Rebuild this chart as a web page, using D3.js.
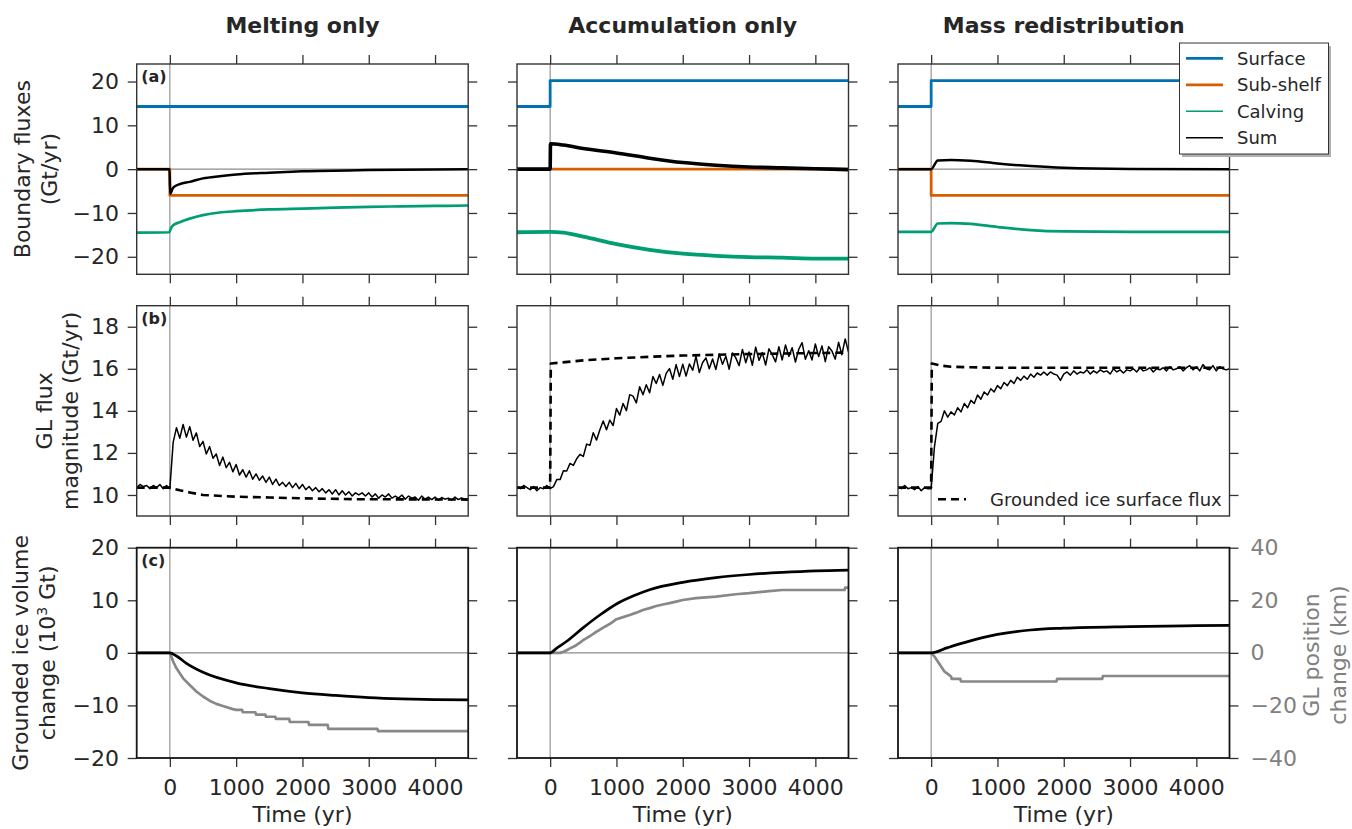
<!DOCTYPE html>
<html>
<head>
<meta charset="utf-8">
<script src="https://cdn.jsdelivr.net/npm/d3@7"></script>
<style>
  body { margin: 0; background: #fff; }
  svg { display: block; font-family: "DejaVu Sans", sans-serif; }
</style>
</head>
<body>
<svg id="chart" width="1352" height="829"></svg>
<script>

//  values; time in yr, fluxes in Gt/yr, volume in 10^3 Gt, GL position in km

var columns = ['Melting only', 'Accumulation only', 'Mass redistribution'];
var panelTags = ['(a)', '(b)', '(c)'];

var xTicks = [0, 1000, 2000, 3000, 4000];
var fluxTicks = [-20, -10, 0, 10, 20];
var glFluxTicks = [10, 12, 14, 16, 18];
var volTicks = [-20, -10, 0, 10, 20];
var posTicks = [-40, -20, 0, 20, 40];

var legendNames = ['Surface', 'Sub-shelf', 'Calving', 'Sum'];

// row (a) boundary fluxes, one array per column
var surface = [
    [[-500, 14.3], [4500, 14.3]],
    [[-500, 14.3], [0, 14.3], [0, 20.2], [4500, 20.2]],
    [[-500, 14.3], [0, 14.3], [0, 20.2], [4500, 20.2]]
];
var subShelf = [
    [[-500, 0], [0, 0], [0, -6], [4500, -6]],
    [[-500, 0], [4500, 0]],
    [[-500, 0], [0, 0], [0, -6], [4500, -6]]
];
var calving = [
    [[-500, -14.5], [-10, -14.4], [20, -13.4], [50, -12.8], [150, -12.1], [300, -11.3], [500, -10.5], [750, -9.9],
     [1000, -9.6], [1500, -9.2], [2000, -9.0], [2500, -8.8], [3000, -8.6], [3500, -8.5], [4000, -8.4], [4500, -8.3]],
    [[-500, -14.4], [0, -14.3], [200, -14.5], [500, -15.4], [1000, -17.1], [1500, -18.4], [2000, -19.3],
     [2500, -19.8], [3000, -20.1], [3500, -20.2], [4000, -20.4], [4500, -20.4]],
    [[-500, -14.3], [0, -14.3], [100, -12.4], [300, -12.3], [600, -12.5], [1000, -13.2], [1500, -13.9],
     [2000, -14.2], [3000, -14.3], [4500, -14.3]]
];
var fluxSum = [
    [[-500, 0], [-5, 0], [5, -5.6], [50, -4.2], [150, -3.4], [300, -2.9], [500, -2.1], [750, -1.6], [1000, -1.2],
     [1500, -0.8], [2000, -0.5], [3000, -0.2], [4500, 0]],
    [[-500, 0], [0, 0], [5, 5.8], [200, 5.5], [500, 4.7], [1000, 3.7], [1500, 2.5], [2000, 1.5], [2500, 0.9],
     [3000, 0.5], [3500, 0.3], [4000, 0.1], [4500, -0.1]],
    [[-500, 0], [0, 0], [100, 2.0], [300, 2.1], [600, 1.9], [1000, 1.3], [1500, 0.7], [2000, 0.3], [3000, 0.05], [4500, 0]]
];

// row (b) GL flux magnitude, sampled every 50 yr from -500 to 4500 (one line = 500 yr)
var glTime = d3.range(-500, 4501, 50);
var glFlux = [
    [10.35, 10.5, 10.4, 10.45, 10.3, 10.45, 10.35, 10.5, 10.3, 10.45,
     10.3, 12.5, 13.2, 12.7, 13.35, 12.75, 13.25, 12.6, 12.95, 12.3,
     12.55, 11.95, 12.3, 11.75, 11.95, 11.4, 11.8, 11.3, 11.55, 11.1,
     11.45, 10.95, 11.2, 10.85, 11.15, 10.75, 11.0, 10.7, 10.9, 10.6,
     10.85, 10.5, 10.75, 10.45, 10.6, 10.4, 10.6, 10.35, 10.55, 10.3,
     10.5, 10.25, 10.4, 10.2, 10.35, 10.15, 10.3, 10.1, 10.25, 10.05,
     10.25, 10.0, 10.2, 10.0, 10.15, 9.95, 10.1, 10.0, 10.1, 9.95,
     10.1, 9.9, 10.05, 9.85, 10.0, 9.9, 10.05, 9.85, 9.95, 9.85,
     10.0, 9.8, 9.95, 9.85, 9.9, 9.75, 9.95, 9.8, 9.9, 9.78,
     9.9, 9.75, 9.88, 9.8, 9.85, 9.75, 9.9, 9.78, 9.86, 9.8,
     9.82],
    [10.4, 10.3, 10.45, 10.35, 10.25, 10.4, 10.2, 10.35, 10.3, 10.45,
     10.3, 10.4, 10.73, 10.73, 11.15, 11.14, 11.5, 11.41, 11.72, 11.93,
     11.83, 12.42, 12.36, 12.96, 12.61, 13.1, 13.52, 13.1, 13.56, 13.3,
     14.11, 13.8, 14.35, 14.01, 14.77, 14.7, 14.38, 15.15, 14.77, 15.24,
     14.86, 15.63, 15.3, 15.73, 15.21, 15.78, 16.01, 15.5, 16.2, 15.63,
     16.22, 15.65, 16.23, 15.93, 16.59, 15.82, 16.3, 16.52, 16.0, 16.47,
     15.97, 16.7, 16.22, 16.6, 15.98, 16.75, 16.52, 16.15, 16.92, 16.29,
     16.8, 16.17, 17.03, 16.4, 16.77, 16.18, 16.95, 16.67, 16.33, 17.05,
     16.42, 17.13, 16.59, 17.0, 16.32, 16.93, 17.24, 16.45, 16.86, 16.42,
     17.18, 16.58, 17.09, 16.34, 17.05, 16.85, 16.46, 17.26, 16.67, 17.42,
     16.8],
    [10.4, 10.3, 10.45, 10.3, 10.35, 10.25, 10.4, 10.2, 10.35, 10.3,
     10.3, 12.3, 13.4, 13.5, 14.0, 13.7, 13.95, 13.8, 14.15, 13.95,
     14.35, 14.15, 14.5, 14.35, 14.75, 14.55, 14.9, 14.75, 15.05, 14.9,
     15.2, 15.05, 15.35, 15.2, 15.45, 15.3, 15.6, 15.45, 15.65, 15.5,
     15.75, 15.6, 15.8, 15.7, 15.85, 15.7, 15.85, 15.75, 15.7, 15.45,
     15.75, 15.85, 15.7, 15.9, 15.75, 15.85, 15.8, 15.95, 15.75, 15.9,
     15.8, 15.95, 15.85, 15.9, 15.75, 16.0, 15.85, 15.95, 15.8, 15.95,
     15.9, 16.0, 15.85, 16.05, 15.9, 15.95, 16.05, 15.85, 16.0, 15.95,
     16.05, 15.9, 16.1, 15.95, 16.0, 16.1, 15.9, 16.05, 16.15, 15.95,
     16.1, 15.9, 16.2, 16.0, 15.95, 16.15, 15.9, 16.1, 16.0, 15.95,
     16.0]
];
var groundedSurfaceFlux = [
    [[-500, 10.35], [0, 10.35], [150, 10.22], [300, 10.12], [500, 10.0], [1000, 9.92], [1500, 9.88],
     [2000, 9.84], [2800, 9.8], [4500, 9.78]],
    [[-500, 10.35], [0, 10.35], [10, 16.25], [500, 16.4], [1000, 16.5], [1500, 16.57], [2000, 16.63],
     [3000, 16.7], [4000, 16.75], [4500, 16.77]],
    [[-500, 10.35], [0, 10.35], [10, 16.25], [150, 16.15], [300, 16.1], [600, 16.07], [1000, 16.05],
     [2000, 16.05], [4500, 16.05]]
];

// row (c) grounded ice volume change (left axis) and GL position change (right axis)
var volume = [
    [[-500, 0], [0, 0], [100, -0.6], [250, -2.0], [500, -3.7], [1000, -5.7], [1500, -6.8], [2000, -7.6],
     [2500, -8.1], [3000, -8.5], [3500, -8.75], [4000, -8.9], [4500, -8.95]],
    [[-500, 0], [0, 0], [100, 0.9], [250, 2.2], [500, 4.8], [750, 7.2], [1000, 9.3], [1250, 10.8], [1500, 12.0],
     [2000, 13.4], [2500, 14.3], [3000, 14.9], [3500, 15.3], [4000, 15.6], [4500, 15.75]],
    [[-500, 0], [0, 0], [250, 1.0], [500, 1.95], [1000, 3.5], [1500, 4.35], [2000, 4.7], [3000, 5.0],
     [4000, 5.17], [4500, 5.24]]
];
var glPosition = [
    [[-500, 0], [0, 0], [50, -3.3], [100, -5.9], [150, -7.8], [200, -9.7], [300, -12.2], [400, -14.7],
     [500, -16.6], [600, -18.2], [700, -19.4], [800, -20.2], [950, -21.4], [1000, -21.7], [1090, -21.7],
     [1100, -22.6], [1290, -22.6], [1300, -23.5], [1440, -23.5], [1450, -24.3], [1590, -24.3], [1600, -25.1],
     [1800, -25.1], [1810, -26.3], [2090, -26.3], [2100, -27.4], [2380, -27.4], [2390, -28.9], [3130, -28.9],
     [3140, -29.8], [4500, -29.8]],
    [[-500, 0], [150, 0], [200, 0.4], [250, 1.0], [300, 1.7], [350, 2.3], [400, 3.0], [450, 3.9], [500, 4.9],
     [550, 5.6], [600, 6.4], [650, 7.2], [700, 8.1], [750, 8.8], [800, 9.6], [850, 10.3], [900, 11.0],
     [950, 11.9], [1000, 12.8], [1100, 13.6], [1200, 14.4], [1300, 15.3], [1400, 16.3], [1500, 17.0],
     [1600, 17.8], [1700, 18.4], [1800, 18.9], [1900, 19.5], [2000, 20.1], [2200, 20.8], [2500, 21.4],
     [2800, 22.3], [3000, 22.7], [3300, 23.5], [3500, 23.9], [4440, 23.9], [4450, 24.8], [4500, 24.8]],
    [[-500, 0], [0, 0], [50, -1.4], [100, -3.3], [150, -5.2], [200, -7.1], [250, -8.0], [300, -9.0],
     [310, -9.9], [440, -9.9], [450, -10.9], [1890, -10.9], [1900, -9.9], [2580, -9.9], [2590, -8.8], [4500, -8.8]]
];

var colors = {
    surface: '#0072b2',
    subshelf: '#d55e00',
    calving: '#009e73',
    sum: '#000000',
    gl: '#888888',
    text: '#262626'
};

// layout
var colLeft = [136.7, 517, 898];
var rowTop = [64, 305.7, 547.7];
var panelW = 331.5;
var panelH = 210.3;
var bandWidth = [2.7, 3.8, 2.7];   // noisy series drawn as a band

var svg = d3.select('#chart');

svg.append('defs').append('clipPath').attr('id', 'panel-clip')
    .append('rect').attr('width', panelW).attr('height', panelH);

var x = d3.scaleLinear().domain([-500, 4500]).range([0, panelW]);
var yFlux = d3.scaleLinear().domain([-24, 24]).range([panelH, 0]);
var yGL = d3.scaleLinear().domain([9, 19]).range([panelH, 0]);
var yVol = d3.scaleLinear().domain([-20, 20]).range([panelH, 0]);
var yPos = d3.scaleLinear().domain([-40, 40]).range([panelH, 0]);

var rowScales = [yFlux, yGL, yVol];
var rowTicks = [fluxTicks, glFluxTicks, volTicks];

function drawLine(g, pts, yScale, color, width, dash, curve) {
    var line = d3.line()
        .x(function(d) { return x(d[0]); })
        .y(function(d) { return yScale(d[1]); })
        .curve(curve || d3.curveLinear);
    return g.append('path')
        .datum(pts)
        .attr('d', line)
        .attr('fill', 'none')
        .attr('stroke', color)
        .attr('stroke-width', width)
        .attr('stroke-linejoin', 'round')
        .attr('stroke-dasharray', dash || null);
}

function styleAxis(sel, labelColor) {
    sel.attr('font-family', null).attr('font-size', null);
    sel.select('.domain').remove();
    sel.selectAll('.tick line').attr('stroke', '#333').attr('stroke-width', 1.3);
    sel.selectAll('.tick text')
        .attr('fill', labelColor || colors.text)
        .style('font-size', '22px');
}

var fmt = d3.format('d');
var blank = function() { return ''; };

for (var c = 0; c < 3; c++) {
    for (var r = 0; r < 3; r++) {

        var yScale = rowScales[r];
        var g = svg.append('g')
            .attr('transform', 'translate(' + colLeft[c] + ',' + rowTop[r] + ')');

        // axes, ticks point outwards on all four sides
        g.append('g').attr('transform', 'translate(0,' + panelH + ')')
            .call(d3.axisBottom(x).tickValues(xTicks).tickSize(9).tickPadding(12.4)
                .tickFormat(r === 2 ? fmt : blank))
            .call(styleAxis);
        g.append('g')
            .call(d3.axisTop(x).tickValues(xTicks).tickSize(9).tickFormat(blank))
            .call(styleAxis);
        g.append('g')
            .call(d3.axisLeft(yScale).tickValues(rowTicks[r]).tickSize(9).tickPadding(8.7)
                .tickFormat(c === 0 ? fmt : blank))
            .call(styleAxis);
        if (r === 2) {
            g.append('g').attr('transform', 'translate(' + panelW + ',0)')
                .call(d3.axisRight(yPos).tickValues(posTicks).tickSize(9).tickPadding(12)
                    .tickFormat(c === 2 ? fmt : blank))
                .call(styleAxis, '#808080');
        } else {
            g.append('g').attr('transform', 'translate(' + panelW + ',0)')
                .call(d3.axisRight(yScale).tickValues(rowTicks[r]).tickSize(9).tickFormat(blank))
                .call(styleAxis);
        }

        var plot = g.append('g').attr('clip-path', 'url(#panel-clip)');

        // reference lines
        if (r !== 1) {
            plot.append('line')
                .attr('x1', 0).attr('x2', panelW)
                .attr('y1', yScale(0)).attr('y2', yScale(0))
                .attr('stroke', '#8c8c8c').attr('stroke-width', 1.1);
        }
        plot.append('line')
            .attr('x1', x(0)).attr('x2', x(0))
            .attr('y1', 0).attr('y2', panelH)
            .attr('stroke', '#8c8c8c').attr('stroke-width', 1.1);

        if (r === 0) {
            drawLine(plot, surface[c], yFlux, colors.surface, 2.8);
            drawLine(plot, subShelf[c], yFlux, colors.subshelf, 2.8);
            drawLine(plot, calving[c], yFlux, colors.calving, bandWidth[c], null, d3.curveMonotoneX);
            drawLine(plot, fluxSum[c], yFlux, colors.sum, bandWidth[c] - 0.2, null, d3.curveMonotoneX);
        } else if (r === 1) {
            drawLine(plot, groundedSurfaceFlux[c], yGL, '#000', 2.6, '8,5');
            var pts = glTime.map(function(t, i) { return [t, glFlux[c][i]]; });
            drawLine(plot, pts, yGL, '#000', 1.5);
        } else {
            drawLine(plot, glPosition[c], yPos, colors.gl, 2.7);
            drawLine(plot, volume[c], yVol, '#000', 2.7, null, d3.curveMonotoneX);
        }

        // frame
        g.append('rect')
            .attr('width', panelW).attr('height', panelH)
            .attr('fill', 'none')
            .attr('stroke', r === 2 ? '#151515' : '#333')
            .attr('stroke-width', r === 2 ? 1.8 : 1.4);

        if (c === 0) {
            g.append('text')
                .attr('x', 4.5).attr('y', 18)
                .attr('fill', colors.text)
                .style('font-size', '16px').style('font-weight', 'bold')
                .text(panelTags[r]);
        }
    }

    svg.append('text')
        .attr('x', colLeft[c] + panelW / 2).attr('y', 32.5)
        .attr('text-anchor', 'middle')
        .attr('fill', colors.text)
        .style('font-size', '22px').style('font-weight', 'bold')
        .text(columns[c]);

    svg.append('text')
        .attr('x', colLeft[c] + panelW / 2).attr('y', 822)
        .attr('text-anchor', 'middle')
        .attr('fill', colors.text)
        .style('font-size', '22px')
        .text('Time (yr)');
}

// y labels, two lines each, rotated
function yLabel(lines, baselines, cy, color) {
    lines.forEach(function(txt, i) {
        var t = svg.append('text')
            .attr('transform', 'translate(' + baselines[i] + ',' + cy + ') rotate(-90)')
            .attr('text-anchor', 'middle')
            .attr('fill', color || colors.text)
            .style('font-size', '22px');
        if (typeof txt === 'string') {
            t.text(txt);
        } else {
            txt.forEach(function(part) {
                t.append('tspan')
                    .attr('dy', part.dy || 0)
                    .style('font-size', part.size || null)
                    .text(part.s);
            });
        }
    });
}

yLabel(['Boundary fluxes', '(Gt/yr)'], [30, 56.5], rowTop[0] + panelH / 2);
yLabel(['GL flux', 'magnitude (Gt/yr)'], [51.5, 78], rowTop[1] + panelH / 2);
yLabel(['Grounded ice volume',
        [{ s: 'change (10' }, { s: '3', dy: -8, size: '14px' }, { s: ' Gt)', dy: 8 }]],
       [28.3, 54.7], rowTop[2] + panelH / 2);
yLabel(['GL position', 'change (km)'], [1319, 1346], 655, '#808080');

// legend, row (b) right panel
var lg = svg.append('g');
lg.append('line')
    .attr('x1', 938).attr('x2', 966).attr('y1', 499.3).attr('y2', 499.3)
    .attr('stroke', '#000').attr('stroke-width', 2.6).attr('stroke-dasharray', '8,5');
lg.append('text')
    .attr('x', 990).attr('y', 499.3).attr('dy', '0.35em')
    .attr('fill', colors.text)
    .style('font-size', '18px')
    .text('Grounded ice surface flux');

// legend, row (a) right panel, drawn over the axes
var legendColors = [colors.surface, colors.subshelf, colors.calving, colors.sum];
var legendWidths = [2.8, 2.8, 1.4, 1.4];
var legendY = [58.3, 84.8, 111.2, 137.7];

var leg = svg.append('g');
leg.append('rect')
    .attr('x', 1182).attr('y', 46).attr('width', 149).attr('height', 111)
    .attr('fill', '#b0b0b0');
leg.append('rect')
    .attr('x', 1179.5).attr('y', 43).attr('width', 149).attr('height', 111)
    .attr('fill', '#fff').attr('stroke', '#333').attr('stroke-width', 1);

legendNames.forEach(function(name, i) {
    leg.append('line')
        .attr('x1', 1186).attr('x2', 1223)
        .attr('y1', legendY[i]).attr('y2', legendY[i])
        .attr('stroke', legendColors[i]).attr('stroke-width', legendWidths[i]);
    leg.append('text')
        .attr('x', 1237).attr('y', legendY[i]).attr('dy', '0.35em')
        .attr('fill', colors.text)
        .style('font-size', '18px')
        .text(name);
});

</script>
</body>
</html>
